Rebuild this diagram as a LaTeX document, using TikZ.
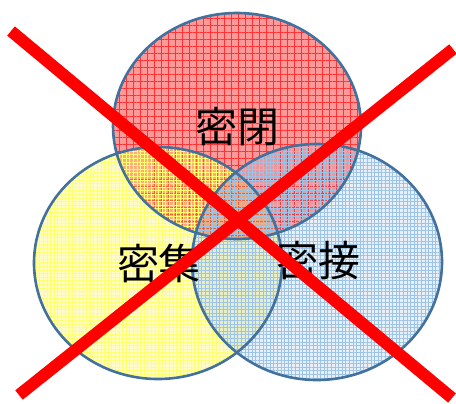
\documentclass[tikz,border=0pt]{standalone}
\usepackage{fontspec}
\newfontfamily\jpfont{Noto Sans CJK JP}
\usetikzlibrary{patterns.meta}
\definecolor{ringblue}{HTML}{41719C}
\definecolor{skyblue}{HTML}{5B9BD5}
\tikzset{
	ring/.style={draw=ringblue, line width=1.3pt},
	word/.style={font=\jpfont\fontsize{21}{21}\selectfont, inner sep=0pt},
	cross/.style={draw=red, line width=6pt},
}
\begin{document}
\begin{tikzpicture}[x=0.5pt,y=-0.5pt]
	\useasboundingbox (0,0) rectangle (456,403);

	% fills
	\fill[red, fill opacity=0.4] (237,126) ellipse [x radius=124, y radius=113];
	\path[pattern={Hatch[angle=0,distance=3.5pt,line width=0.3pt]}, pattern color=red!80] (237,126) ellipse [x radius=124, y radius=113];
	\fill[yellow, fill opacity=0.22] (158,263) ellipse [x radius=124, y radius=116];
	\path[pattern={Hatch[angle=0,distance=1.8pt,line width=0.2pt]}, pattern color=yellow!55] (158,263) ellipse [x radius=124, y radius=116];
	\fill[skyblue, fill opacity=0.15] (317,262) ellipse [x radius=125, y radius=118];
	\path[pattern={Hatch[angle=0,distance=1.8pt,line width=0.2pt]}, pattern color=skyblue!60] (317,262) ellipse [x radius=125, y radius=118];

	% outlines
	\draw[ring] (237,126) ellipse [x radius=124, y radius=113];
	\draw[ring] (158,263) ellipse [x radius=124, y radius=116];
	\draw[ring] (317,262) ellipse [x radius=125, y radius=118];

	\node[word] (closed) at (237,127) {密閉};
	\node[word] (crowd) at (159,263) {密集};
	\node[word] (contact) at (318,261) {密接};

	% the cross
	\coordinate (tl) at (11,31);
	\coordinate (br) at (452,398);
	\coordinate (tr) at (453,49);
	\coordinate (bl) at (19,395);
	\draw[cross] (tl) -- (br);
	\draw[cross] (tr) -- (bl);
\end{tikzpicture}
\end{document}
